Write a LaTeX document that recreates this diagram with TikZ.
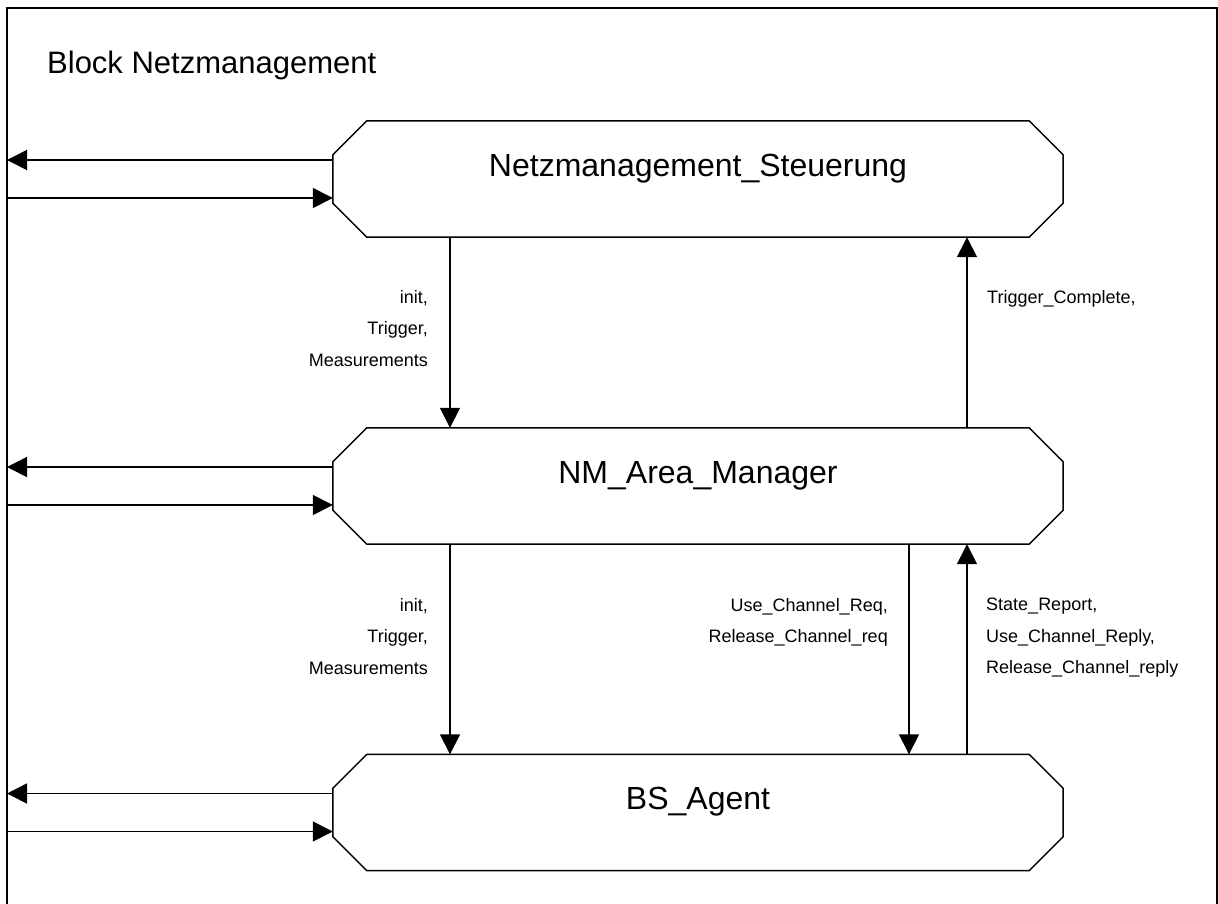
\documentclass[tikz,border=0pt]{standalone}
\usepackage{fontspec}
\setmainfont{Liberation Sans}
\usetikzlibrary{arrows.meta}

% octagonal outline drawn around a process node
\newcommand\chamferbox[1]{%
  \draw[outline] ([xshift=34pt]#1.north west) -- ([xshift=-34pt]#1.north east)
    -- ([yshift=-34pt]#1.north east) -- ([yshift=34pt]#1.south east)
    -- ([xshift=-34pt]#1.south east) -- ([xshift=34pt]#1.south west)
    -- ([yshift=34pt]#1.south west) -- ([yshift=-34pt]#1.north west) -- cycle;}

\begin{document}
\begin{tikzpicture}[x=1pt,y=-1pt,
  process/.style={rectangle, inner sep=0pt, minimum width=730pt,
    text height=55pt, text depth=61pt, font=\fontsize{32}{38}\selectfont},
  outline/.style={line width=1.5pt, line join=miter},
  flow/.style={line width=1.5pt, -{Triangle[length=20pt,width=20pt]}},
  sig/.style={inner sep=0pt, font=\fontsize{18}{31.5}\selectfont},
  heading/.style={inner sep=0pt, font=\fontsize{31}{36}\selectfont},
]
\useasboundingbox (0,0) rectangle (1218,903);
\clip (0,0) rectangle (1218,903);

% block frame (open at the bottom)
\coordinate (fnw) at (7,8);
\coordinate (fne) at (1217,8);
\coordinate (fsw) at (7,912);
\coordinate (fse) at (1217,912);
\draw[line width=2pt] (fsw) -- (fnw) -- (fne) -- (fse);

\node[heading, anchor=base west] (title) at (47,73) {Block Netzmanagement};

% processes
\node[process] (steuerung) at (698,179) {Netzmanagement\_Steuerung};
\node[process] (area) at (698,486) {NM\_Area\_Manager};
\node[process] (agent) at (698,812.5) {BS\_Agent};
\chamferbox{steuerung}
\chamferbox{area}
\chamferbox{agent}

% channels to the environment
\foreach \p in {steuerung,area,agent}{
  \draw[flow] ([yshift=19pt]\p.west) -- ([yshift=19pt]\p.west -| fnw);
  \draw[flow] ([yshift=-19pt]\p.west -| fnw) -- ([yshift=-19pt]\p.west);
}

% internal channels
\draw[flow] ([xshift=-248pt]steuerung.south) -- ([xshift=-248pt]area.north);
\draw[flow] ([xshift=269pt]area.north) -- ([xshift=269pt]steuerung.south);
\draw[flow] ([xshift=-248pt]area.south) -- ([xshift=-248pt]agent.north);
\draw[flow] ([xshift=211pt]area.south) -- ([xshift=211pt]agent.north);
\draw[flow] ([xshift=269pt]agent.north) -- ([xshift=269pt]area.south);

% signal lists
\node[sig, align=right, anchor=north east] (sigA) at (428,290) {init,\\Trigger,\\Measurements};
\node[sig, anchor=base west] (sigB) at (987,303) {Trigger\_Complete,};
\node[sig, align=right, anchor=north east] (sigC) at (428,598) {init,\\Trigger,\\Measurements};
\node[sig, align=right, anchor=north east] (sigD) at (888,598) {Use\_Channel\_Req,\\Release\_Channel\_req};
\node[sig, align=left, anchor=north west] (sigE) at (986,598) {State\_Report,\\Use\_Channel\_Reply,\\Release\_Channel\_reply};
\end{tikzpicture}
\end{document}
